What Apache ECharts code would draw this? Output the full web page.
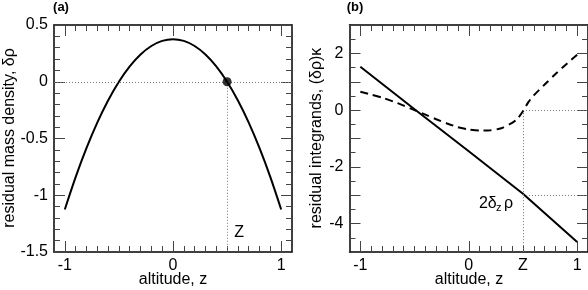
<!DOCTYPE html>
<html>
<head>
<meta charset="utf-8">
<script src="https://cdn.jsdelivr.net/npm/echarts@6/dist/echarts.min.js"></script>
<style>
html,body{margin:0;padding:0;background:#fff;}
#c{width:588px;height:290px;}
</style>
</head>
<body>
<div id="c"></div>
<script>
// ---- data ----
const Z = 0.5;
// panel (a): residual mass density
const zA = [-1, -0.9, -0.8, -0.7, -0.6, -0.5, -0.4, -0.3, -0.2, -0.1, 0, 0.1, 0.2, 0.3, 0.4, 0.5, 0.6, 0.7, 0.8, 0.9, 1];
const rhoA = [-1.125, -0.84, -0.585, -0.36, -0.165, 0, 0.135, 0.24, 0.315, 0.36, 0.375, 0.36, 0.315, 0.24, 0.135, 0, -0.165, -0.36, -0.585, -0.84, -1.125];
// panel (b): solid line 2 delta_z rho
const zSolid = [-1, -0.5, 0, 0.5, 1];
const solidB = [1.53, 0.03, -1.45, -2.95, -4.65];
// panel (b): dashed line (delta rho) kappa
const zDash = [-1, -0.9, -0.8, -0.7, -0.6, -0.5, -0.4, -0.3, -0.2, -0.1, 0, 0.1, 0.2, 0.3, 0.4, 0.45, 0.5, 0.55, 0.6, 0.7, 0.8, 0.9, 1];
const dashB = [0.65, 0.55, 0.44, 0.31, 0.16, 0.0, -0.16, -0.32, -0.47, -0.60, -0.68, -0.72, -0.71, -0.64, -0.45, -0.30, -0.04, 0.28, 0.52, 0.90, 1.27, 1.62, 1.95];
const solidAtZ = -3;
// axis tick labels
const xLabelsA = [-1, 0, 1];
const xLabelsB = [-1, 0, Z, 1];
const yLabelsB = [2, 0, -2, -4];
const xMajor = [-1, 0, 1];

const FONT = '"Liberation Sans", Arial, Helvetica, sans-serif';
const pair = (xs, ys) => xs.map((x, i) => [x, ys[i]]);
const TICK = '#444', LONG = 11, SHORT = 6;

const chart = echarts.init(document.getElementById('c'));

const lineBlack = () => ({color: '#000', width: 1.5});
const tickStyle = () => ({color: TICK, width: 1});

function xAxes(grid, labelVals, fmt) {
  const base = () => ({gridIndex: grid, type: 'value', min: -1.1, max: 1.1, interval: 0.1,
    splitLine: {show: false}});
  return [
    Object.assign(base(), {position: 'bottom',
      axisLine: {show: true, onZero: false, lineStyle: lineBlack()},
      axisTick: {show: true, inside: true, length: LONG, customValues: xMajor.slice(), lineStyle: tickStyle()},
      axisLabel: {show: true, customValues: labelVals.slice(), margin: 6, color: '#000', fontSize: 16,
        fontFamily: FONT, formatter: fmt}}),
    Object.assign(base(), {position: 'bottom',
      axisLine: {show: false, onZero: false},
      axisTick: {show: true, inside: true, length: SHORT, lineStyle: tickStyle()},
      axisLabel: {show: false}}),
    Object.assign(base(), {position: 'top',
      axisLine: {show: true, onZero: false, lineStyle: lineBlack()},
      axisTick: {show: true, inside: true, length: LONG, customValues: xMajor.slice(), lineStyle: tickStyle()},
      axisLabel: {show: false}}),
    Object.assign(base(), {position: 'top',
      axisLine: {show: false, onZero: false},
      axisTick: {show: true, inside: true, length: SHORT, lineStyle: tickStyle()},
      axisLabel: {show: false}})
  ];
}

function yAxes(grid, min, max, interval, split, fmt) {
  const base = () => ({gridIndex: grid, type: 'value', min: min, max: max, interval: interval,
    splitLine: {show: false},
    axisLine: {show: true, onZero: false, lineStyle: lineBlack()},
    axisTick: {show: true, inside: true, length: LONG, lineStyle: tickStyle()},
    minorTick: {show: true, splitNumber: split, length: SHORT, lineStyle: tickStyle()}});
  return [
    Object.assign(base(), {position: 'left',
      axisLabel: {show: true, margin: 6, color: '#000', fontSize: 16, fontFamily: FONT, formatter: fmt}}),
    Object.assign(base(), {position: 'right', axisLabel: {show: false}})
  ];
}

const dotted = () => ({color: '#777', width: 1, type: [1, 2]});

chart.setOption({
  animation: false,
  backgroundColor: '#fff',
  grid: [
    {left: 54, top: 25, width: 238, height: 227},
    {left: 349.5, top: 25, width: 238.5, height: 227}
  ],
  xAxis: [].concat(
    xAxes(0, xLabelsA, v => String(Math.round(v))),
    xAxes(1, xLabelsB, v => (Math.abs(v - Z) < 1e-6 ? 'Z' : String(Math.round(v))))
  ),
  yAxis: [].concat(
    yAxes(0, -1.5, 0.5, 0.5, 5, v => String(v)),
    yAxes(1, -5, 3, 1, 2, v => (yLabelsB.indexOf(v) >= 0 ? String(v) : ''))
  ),
  series: [
    {type: 'line', xAxisIndex: 0, yAxisIndex: 0, data: pair(zA, rhoA), smooth: 0.3,
      showSymbol: false, lineStyle: {color: '#000', width: 2}, z: 3,
      markLine: {silent: true, symbol: 'none', label: {show: false}, lineStyle: dotted(),
        data: [
          [{coord: [-1.1, 0]}, {coord: [1.1, 0]}],
          [{coord: [Z, 0]}, {coord: [Z, -1.5]}]
        ]}},
    {type: 'scatter', xAxisIndex: 0, yAxisIndex: 0, data: [[Z, 0]], symbol: 'circle', symbolSize: 9,
      itemStyle: {color: '#000'}, z: 5},
    {type: 'line', xAxisIndex: 4, yAxisIndex: 2, data: pair(zSolid, solidB),
      showSymbol: false, lineStyle: {color: '#000', width: 2}, z: 3,
      markLine: {silent: true, symbol: 'none', label: {show: false}, lineStyle: dotted(),
        data: [
          [{coord: [Z, 0]}, {coord: [1.1, 0]}],
          [{coord: [Z, solidAtZ]}, {coord: [1.1, solidAtZ]}],
          [{coord: [Z, 0]}, {coord: [Z, -5]}]
        ]}},
    {type: 'line', xAxisIndex: 4, yAxisIndex: 2, data: pair(zDash, dashB), smooth: 0.25,
      showSymbol: false, lineStyle: {color: '#000', width: 2, type: [8, 5]}, z: 3}
  ]
});

// ---- helpers working through the library's own scales ----
const px = (axis, idx, v) => chart.convertToPixel(axis === 'x' ? {xAxisIndex: idx} : {yAxisIndex: idx}, v);
const steps = (min, max, step) => {
  const n = Math.round((max - min) / step);
  const out = [];
  for (let k = 0; k <= n; k++) out.push(+(min + k * step).toFixed(6));
  return out;
};
const near = (v, m) => Math.abs(v / m - Math.round(v / m)) < 1e-6;

// check whether the native axis ticks reached the canvas
function nativeTicksDrawn() {
  try {
    const cv = document.querySelector('#c canvas');
    const ctx = cv.getContext('2d');
    const dark = (x, y) => {
      for (let dy = -1; dy <= 1; dy++) for (let dx = -1; dx <= 1; dx++) {
        const d = ctx.getImageData(Math.round(x) + dx, Math.round(y) + dy, 1, 1).data;
        if (d[3] > 0 && d[0] < 170) return true;
      }
      return false;
    };
    const yb = px('y', 0, -1.5), xl = px('x', 0, -1.1);
    const okX = dark(px('x', 0, -0.9), yb - 3.5);
    const okY = dark(xl + 3.5, px('y', 0, -1.4));
    return okX && okY;
  } catch (e) { return false; }
}

const graphics = [];
const hasNative = nativeTicksDrawn();
if (!hasNative) {
  // switch native ticks off and draw the same ticks from the axes' scales
  const offX = [], offY = [];
  for (let i = 0; i < 8; i++) offX.push({axisTick: {show: false}});
  for (let i = 0; i < 4; i++) offY.push({axisTick: {show: false}, minorTick: {show: false}});
  chart.setOption({xAxis: offX, yAxis: offY});

  const seg = (x1, y1, x2, y2) => ({type: 'line', silent: true, z: 10,
    shape: {x1: x1, y1: y1, x2: x2, y2: y2}, style: {stroke: TICK, lineWidth: 1}});
  const crisp = v => Math.round(v - 0.5) + 0.5;
  const panels = [
    {xi: 0, yi: 0, ymin: -1.5, ymax: 0.5, ystep: 0.1, ymajor: 0.5},
    {xi: 4, yi: 2, ymin: -5, ymax: 3, ystep: 0.5, ymajor: 1}
  ];
  panels.forEach(p => {
    const xL = px('x', p.xi, -1.1), xR = px('x', p.xi, 1.1);
    const yB = px('y', p.yi, p.ymin), yT = px('y', p.yi, p.ymax);
    steps(-1.1, 1.1, 0.1).forEach(v => {
      if (Math.abs(v) > 1.05) return;
      const len = xMajor.some(m => Math.abs(m - v) < 1e-6) ? LONG : SHORT;
      const x = crisp(px('x', p.xi, v));
      graphics.push(seg(x, yB, x, yB - len));
      graphics.push(seg(x, yT, x, yT + len));
    });
    steps(p.ymin, p.ymax, p.ystep).forEach(v => {
      const len = near(v, p.ymajor) ? LONG : SHORT;
      const y = crisp(px('y', p.yi, v));
      graphics.push(seg(xL, y, xL + len, y));
      graphics.push(seg(xR, y, xR - len, y));
    });
  });
}

// ---- annotations, anchored in data coordinates ----
const pZa = chart.convertToPixel({xAxisIndex: 0, yAxisIndex: 0}, [Z, -1.5]);
const pZb = chart.convertToPixel({xAxisIndex: 4, yAxisIndex: 2}, [Z, solidAtZ]);
const txt = (x, y, s, extra) => Object.assign({type: 'text', x: x, y: y, silent: true, z: 11,
  style: Object.assign({text: s, fill: '#000', font: '16px ' + FONT, textAlign: 'center', textVerticalAlign: 'middle'}, extra || {})});

graphics.push(
  txt(61, 7, '(a)', {font: 'bold 13px ' + FONT}),
  txt(355, 7, '(b)', {font: 'bold 13px ' + FONT}),
  txt(173, 280, 'altitude, z'),
  txt(469, 280, 'altitude, z'),
  Object.assign(txt(10, 138, 'residual mass density, δρ'), {rotation: Math.PI / 2}),
  Object.assign(txt(317, 138, 'residual integrands, (δρ)κ'), {rotation: Math.PI / 2}),
  txt(pZa[0] + 12, pZa[1] - 19, 'Z'),
  txt(pZb[0] - 44, pZb[1] + 8, '2δ', {textAlign: 'left'}),
  txt(pZb[0] - 27, pZb[1] + 13, 'z', {textAlign: 'left', font: '11px ' + FONT}),
  txt(pZb[0] - 19, pZb[1] + 8, 'ρ', {textAlign: 'left'})
);
chart.setOption({graphic: graphics});
</script>
</body>
</html>
